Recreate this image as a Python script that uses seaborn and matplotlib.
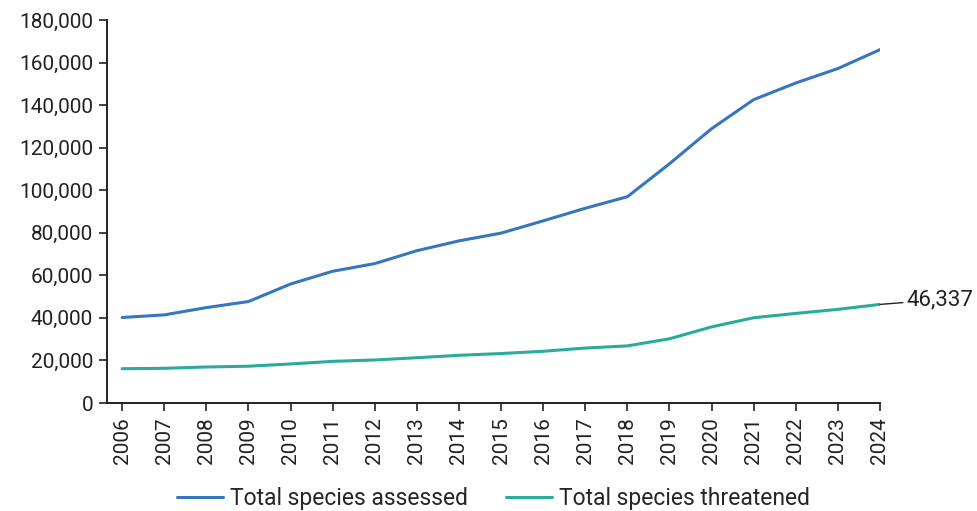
import matplotlib
matplotlib.use("Agg")
import matplotlib.pyplot as plt
import matplotlib.ticker as mticker
import seaborn as sns
import pandas as pd

years = list(range(2006, 2025))
assessed = [40177, 41415, 44838, 47677, 55926, 61914, 65518, 71576, 76199, 79837,
            85604, 91523, 96951, 112432, 128918, 142577, 150388, 157190, 166061]
threatened = [16118, 16306, 16928, 17291, 18351, 19570, 20219, 21286, 22413, 23250,
              24307, 25821, 26840, 30178, 35765, 40084, 42100, 44016, 46337]
series_names = ["Total species assessed", "Total species threatened"]
colors = ["#3776bf", "#2aac9c"]

df = pd.DataFrame({"year": years * 2,
                   "value": assessed + threatened,
                   "series": [series_names[0]] * len(years) + [series_names[1]] * len(years)})

sns.set_style("ticks")
plt.rcParams["font.family"] = ["Roboto", "DejaVu Sans"]

fig = plt.figure(figsize=(9.78, 5.11), dpi=100)
ax = fig.add_axes([107 / 978, 1 - 403 / 511, (880 - 107) / 978, (403 - 20) / 511])

sns.lineplot(data=df, x="year", y="value", hue="series", palette=colors,
             linewidth=2.2, ax=ax, legend=True)

ax.set_xlim(2005.64, 2024)
ax.set_ylim(0, 180000)
ax.set_xticks(years)
ax.set_xticklabels([str(y) for y in years], rotation=90)
ax.set_yticks(range(0, 180001, 20000))
ax.yaxis.set_major_formatter(mticker.FuncFormatter(lambda v, p: f"{int(v):,}"))
ax.tick_params(axis="both", labelsize=15, length=6, width=1.2, color="#222222",
               labelcolor="#222222", direction="out", pad=4)
ax.set_xlabel("")
ax.set_ylabel("")
for s in ["top", "right"]:
    ax.spines[s].set_visible(False)
for s in ["left", "bottom"]:
    ax.spines[s].set_linewidth(1.4)
    ax.spines[s].set_color("#222222")

# Label the latest threatened count with a short leader line
last_val = threatened[-1]
ax.annotate(f"{last_val:,}", xy=(years[-1], last_val), xytext=(years[-1] + 0.62, last_val + 2200),
            fontsize=16, color="#222222", va="center", ha="left",
            arrowprops=dict(arrowstyle="-", color="#222222", lw=1.0, shrinkA=0, shrinkB=0),
            annotation_clip=False)

handles, labels = ax.get_legend_handles_labels()
ax.legend(handles, labels, loc="center", bbox_to_anchor=(0.5, -0.25),
          ncol=2, frameon=False, fontsize=16.5, handlelength=2.0, columnspacing=1.7,
          handletextpad=0.3)

fig.savefig("out.png", dpi=100)
